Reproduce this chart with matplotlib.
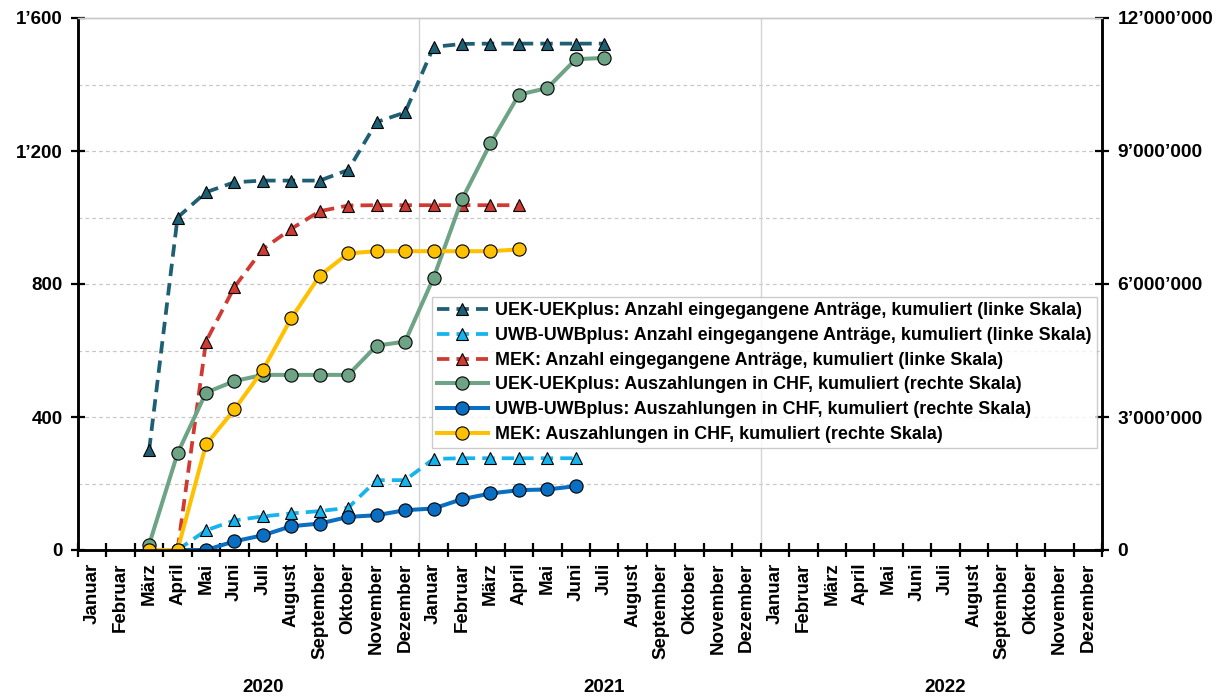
import numpy as np
import matplotlib
matplotlib.use("Agg")
import matplotlib.pyplot as plt
from matplotlib.ticker import FuncFormatter, FixedLocator

plt.rcParams['font.family'] = ['Liberation Sans', 'DejaVu Sans']
plt.rcParams['font.weight'] = 'bold'

months = ["Januar", "Februar", "März", "April", "Mai", "Juni", "Juli", "August",
          "September", "Oktober", "November", "Dezember"]
years = ["2020", "2021", "2022"]

# Cumulative applications (left scale), values starting at given month index
uek_antraege_start = 2
uek_antraege = [300, 1000, 1076, 1106, 1111, 1111, 1111, 1143, 1287, 1316,
                1513, 1522, 1523, 1523, 1523, 1523, 1523]
uwb_antraege_start = 3
uwb_antraege = [0, 59, 89, 101, 110, 117, 127, 210, 210, 274, 276, 276, 276, 276, 276]
mek_antraege_start = 3
mek_antraege = [0, 627, 791, 905, 966, 1019, 1036, 1037, 1037, 1037, 1037, 1037, 1037]

# Cumulative payouts in CHF (right scale)
uek_auszahl_start = 2
uek_auszahl = [122000, 2180000, 3550000, 3810000, 3950000, 3950000, 3950000, 3950000,
               4610000, 4700000, 6140000, 7910000, 9170000, 10270000, 10420000,
               11070000, 11100000]
uwb_auszahl_start = 3
uwb_auszahl = [0, 0, 196000, 332000, 536000, 597000, 746000, 785000, 898000, 936000,
               1146000, 1275000, 1350000, 1366000, 1440000]
mek_auszahl_start = 2
mek_auszahl = [0, 0, 2380000, 3170000, 4060000, 5230000, 6190000, 6690000, 6740000,
               6740000, 6740000, 6740000, 6740000, 6780000]

labels = [
    "UEK-UEKplus: Anzahl eingegangene Anträge, kumuliert (linke Skala)",
    "UWB-UWBplus: Anzahl eingegangene Anträge, kumuliert (linke Skala)",
    "MEK: Anzahl eingegangene Anträge, kumuliert (linke Skala)",
    "UEK-UEKplus: Auszahlungen in CHF, kumuliert (rechte Skala)",
    "UWB-UWBplus: Auszahlungen in CHF, kumuliert (rechte Skala)",
    "MEK: Auszahlungen in CHF, kumuliert (rechte Skala)",
]

n = len(months) * len(years)


def series(start, vals):
    x = np.arange(start, start + len(vals)) + 0.5
    return x, np.array(vals, dtype=float)


FS = 13.5
LFS = 12.9
W, H = 1225, 697
fig = plt.figure(figsize=(W / 100, H / 100), dpi=100)
L, R, T, B = 78, 1102, 18, 550
ax = fig.add_axes([L / W, 1 - B / H, (R - L) / W, (B - T) / H])
ax2 = ax.twinx()

c_uek_a = "#1E5F74"
c_uwb_a = "#16B4EC"
c_mek_a = "#CF3A33"
c_uek_p = "#6FA386"
c_uwb_p = "#0A6FC2"
c_mek_p = "#FFC000"

lw = 2.7
dash = (3.3, 1.9)
handles = []
for (st, vals), col, lab in [((uek_antraege_start, uek_antraege), c_uek_a, labels[0]),
                             ((uwb_antraege_start, uwb_antraege), c_uwb_a, labels[1]),
                             ((mek_antraege_start, mek_antraege), c_mek_a, labels[2])]:
    x, y = series(st, vals)
    h, = ax.plot(x, y, color=col, lw=lw, dashes=dash, marker='^', ms=8.5,
                 mfc=col, mec='black', mew=0.8, label=lab)
    handles.append(h)

for (st, vals), col, lab in [((uek_auszahl_start, uek_auszahl), c_uek_p, labels[3]),
                             ((uwb_auszahl_start, uwb_auszahl), c_uwb_p, labels[4]),
                             ((mek_auszahl_start, mek_auszahl), c_mek_p, labels[5])]:
    x, y = series(st, vals)
    h, = ax2.plot(x, y, color=col, lw=lw + 0.2, marker='o', ms=9.5,
                  mfc=col, mec='black', mew=0.8, label=lab)
    handles.append(h)

ax.set_xlim(0, n)
ax.set_ylim(0, 1600)
ax2.set_ylim(0, 12000000)

# grid
for v in range(200, 1600, 200):
    ax.axhline(v, color='#c8c8c8', lw=0.9, ls=(0, (3, 2.5)), zorder=0)
for k in range(1, len(years)):
    ax.axvline(12 * k, color='#d4d4d4', lw=1.0, zorder=0)

# spines
for a in (ax, ax2):
    a.spines['top'].set_color('#c8c8c8')
    a.spines['top'].set_linewidth(1.0)
    a.spines['left'].set_linewidth(1.8)
    a.spines['right'].set_linewidth(1.8)
    a.spines['bottom'].set_linewidth(1.8)
    a.set_facecolor('none')

# x ticks
ax.xaxis.set_major_locator(FixedLocator(np.arange(0, n + 1)))
ax.xaxis.set_minor_locator(FixedLocator(np.arange(n) + 0.5))
ax.set_xticklabels([])
ax.set_xticklabels(months * len(years), minor=True, rotation=90,
                   fontsize=FS, fontweight='bold', va='top', ha='center')
ax.tick_params(axis='x', which='major', direction='inout', length=10, width=1.6)
ax.tick_params(axis='x', which='minor', length=0, pad=9)

for i, yr in enumerate(years):
    ax.text(12 * i + 6.5, -0.258, yr, transform=ax.get_xaxis_transform(),
            ha='center', va='center', fontsize=FS, fontweight='bold')

# y ticks
fmt = FuncFormatter(lambda v, p: f"{int(v):,}".replace(",", "\u2019"))
ax.set_yticks(range(0, 1601, 400))
ax.yaxis.set_major_formatter(fmt)
ax.tick_params(axis='y', direction='inout', length=10, width=1.6, pad=6, labelsize=FS)
ax2.set_yticks(range(0, 12000001, 3000000))
ax2.yaxis.set_major_formatter(fmt)
ax2.tick_params(axis='y', direction='inout', length=10, width=1.6, pad=6, labelsize=FS + 0.3)
for lab in ax.get_yticklabels() + ax2.get_yticklabels():
    lab.set_fontweight('bold')

leg = ax2.legend(handles=handles, loc='upper left',
                 bbox_to_anchor=((432 - L) / (R - L), (B - 297) / (B - T)),
                 borderaxespad=0, frameon=True, fancybox=False,
                 prop={'size': LFS, 'weight': 'bold'}, handlelength=2.8,
                 handletextpad=0.4, labelspacing=0.43, borderpad=0.3)
leg.get_frame().set_edgecolor('#c0c0c0')
leg.get_frame().set_linewidth(1.0)
leg.set_zorder(10)

fig.savefig("out.png", dpi=100)
